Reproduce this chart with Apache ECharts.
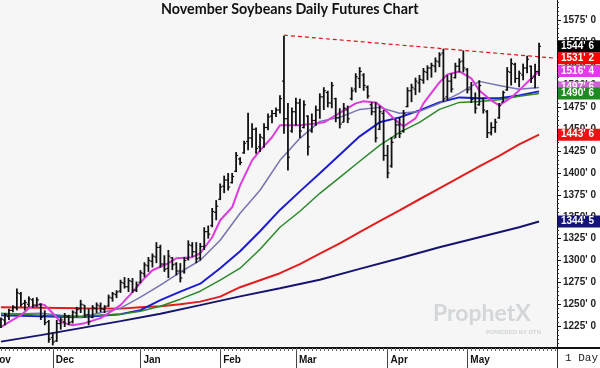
<!DOCTYPE html>
<html><head><meta charset="utf-8">
<script src="https://cdn.jsdelivr.net/npm/echarts/dist/echarts.min.js"></script>
<style>html,body{margin:0;padding:0;background:#fff}#c{width:600px;height:368px}</style>
</head><body><div id="c"></div>
<script>
// ---- data ----
const months = ['Nov','Dec','Jan','Feb','Mar','Apr','May'];
const monthStartBar = [-3,13,35,55,74,97,117];
const PRE = 3, POST = 4;

const opens = [1225,1232,1236,1243,1246,1262,1251,1250,1255,1249,
1250,1237,1230,1212,1208,1228,1230,1236,1230,1240,
1245,1249,1238,1235,1245,1248,1244,1248,1257,1261,
1265,1274,1270,1276,1266,1275,1285,1294,1299,1304,
1315,1296,1291,1303,1296,1288,1287,1302,1317,1310,
1303,1316,1333,1340,1355,1370,1385,1392,1389,1402,
1416,1423,1436,1440,1450,1430,1440,1452,1465,1468,
1472,1505,1462,1448,1470,1480,1452,1465,1448,1460,
1472,1487,1492,1480,1485,1463,1458,1472,1485,1496,
1508,1512,1498,1478,1470,1450,1468,1420,1408,1440,
1455,1448,1476,1494,1496,1503,1506,1515,1520,1522,
1527,1537,1487,1505,1509,1522,1528,1518,1496,1485,
1478,1485,1470,1446,1452,1463,1481,1495,1515,1524,
1508,1512,1520,1522,1510,1516];
const highs = [1235,1240,1245,1249,1268,1264,1255,1259,1257,1258,
1251,1243,1232,1218,1232,1235,1240,1238,1243,1247,
1255,1249,1245,1249,1252,1252,1249,1261,1264,1266,
1278,1281,1280,1280,1276,1289,1298,1304,1308,1321,
1318,1306,1312,1304,1298,1297,1304,1323,1321,1321,
1320,1338,1340,1360,1369,1388,1397,1400,1400,1424,
1418,1437,1469,1457,1452,1445,1457,1468,1472,1475,
1489,1557,1480,1475,1486,1485,1483,1466,1468,1477,
1491,1498,1494,1504,1486,1474,1480,1477,1498,1514,
1521,1514,1500,1481,1481,1477,1472,1432,1441,1462,
1464,1472,1498,1502,1509,1512,1520,1523,1526,1532,
1538,1542,1512,1514,1526,1531,1540,1520,1504,1492,
1506,1486,1472,1458,1462,1480,1494,1521,1531,1526,
1517,1525,1534,1523,1525,1549];
const lows = [1223,1226,1232,1241,1243,1247,1243,1247,1246,1247,
1232,1226,1206,1203,1207,1221,1224,1226,1228,1235,
1240,1235,1226,1234,1240,1241,1240,1247,1253,1257,
1263,1268,1264,1263,1264,1274,1281,1287,1292,1297,
1292,1287,1280,1289,1283,1275,1285,1300,1304,1297,
1300,1312,1325,1338,1346,1369,1377,1380,1388,1401,
1409,1422,1426,1429,1422,1424,1429,1449,1457,1464,
1468,1445,1403,1446,1454,1440,1451,1420,1446,1454,
1462,1472,1475,1474,1458,1451,1458,1457,1483,1492,
1497,1494,1485,1466,1435,1449,1414,1394,1406,1440,
1440,1446,1475,1481,1489,1492,1502,1506,1509,1515,
1521,1481,1483,1492,1508,1515,1515,1491,1480,1468,
1477,1468,1440,1443,1446,1462,1481,1494,1500,1503,
1498,1506,1514,1503,1497,1511];
const closes = [1233,1238,1243,1247,1263,1250,1252,1256,1249,1255,
1235,1229,1210,1207,1228,1232,1237,1229,1241,1244,
1250,1238,1230,1246,1249,1245,1247,1258,1262,1264,
1275,1270,1277,1266,1272,1286,1295,1300,1305,1315,
1296,1290,1305,1295,1288,1280,1300,1318,1310,1302,
1316,1333,1330,1356,1362,1384,1392,1384,1396,1420,
1412,1434,1440,1450,1428,1441,1452,1464,1468,1472,
1485,1462,1418,1470,1480,1448,1478,1430,1460,1472,
1487,1494,1480,1500,1463,1456,1474,1462,1494,1510,
1516,1500,1488,1470,1440,1470,1420,1400,1435,1455,
1445,1468,1494,1498,1505,1507,1516,1520,1523,1528,
1535,1485,1505,1496,1522,1527,1520,1495,1484,1474,
1500,1472,1446,1452,1458,1477,1492,1516,1525,1508,
1514,1520,1530,1508,1516,1544.75];

// moving averages: [bar index, value]
const pinkMA = [[0,1223.8],[2,1229.6],[5,1237.5],[7,1245.5],[10,1250.1],[11,1249],[13,1239.8],[15,1229.6],[18,1226.1],[21,1228.4],[25,1234.1],[27,1239.8],[30,1249],[33,1263.8],[36,1279.8],[38,1288.9],[42,1296.9],[44,1302.6],[48,1303.8],[50,1308.3],[53,1326.6],[55,1346],[58,1360.8],[60,1385.9],[63,1414.5],[65,1425.9],[68,1440.8],[70,1454.5],[72,1454.5],[75,1454.5],[79,1456.7],[81,1457.9],[84,1465.9],[86,1471.6],[89,1479.6],[91,1481.9],[94,1480.7],[96,1473.8],[99,1460.2],[101,1453.3],[104,1462.4],[106,1479.6],[110,1503.5],[112,1512.7],[115,1516.1],[118,1508.1],[120,1494.4],[123,1483],[125,1477.3],[128,1486.4],[130,1494.4],[132,1503.5],[135,1516.5]];
const lavMA = [[0,1238.7],[10,1239.8],[20,1235.2],[30,1245.5],[35,1258.1],[40,1271.8],[45,1286.6],[50,1300.3],[55,1323.2],[60,1354],[65,1380.3],[70,1414.5],[75,1439.6],[80,1459],[85,1463.6],[90,1472.7],[95,1475],[100,1468.2],[105,1470.4],[110,1479.6],[115,1491],[120,1504.7],[125,1500.1],[130,1495.6],[135,1497.75]];
const blueMA = [[0,1237.5],[10,1236.4],[20,1235.2],[30,1238.7],[35,1243.3],[40,1254.7],[45,1264.4],[50,1273.5],[55,1291.2],[60,1310.6],[65,1333.4],[70,1357.8],[75,1379],[80,1399.6],[85,1420.8],[90,1441.9],[95,1457.9],[100,1463.6],[105,1471.6],[110,1480.7],[115,1486.4],[120,1485.3],[125,1485.3],[130,1488.7],[135,1493.3]];
const greenMA = [[0,1239.8],[10,1237.5],[20,1236.4],[30,1238.7],[35,1242.1],[40,1247.8],[45,1255.8],[50,1264.9],[55,1277.5],[60,1291.2],[65,1312.9],[70,1338],[75,1356.3],[80,1376.8],[85,1395],[90,1413.4],[95,1431.6],[100,1446.5],[105,1457.9],[110,1472.7],[115,1480.7],[120,1481.8],[125,1483.6],[130,1487.6],[135,1490.75]];
const redMA = [[0,1246.7],[10,1246.1],[20,1245.5],[30,1245],[35,1246.7],[40,1247.8],[45,1250],[50,1253],[55,1258.7],[60,1269.5],[65,1277.5],[70,1285.5],[75,1295.8],[80,1307.8],[85,1319.7],[90,1332.3],[95,1344.9],[100,1357.4],[105,1370],[110,1382.5],[115,1395],[120,1407.6],[125,1419.6],[130,1432.8],[135,1443.75]];
const navyMA = [[0,1207.3],[10,1214.7],[20,1222.7],[30,1230.7],[40,1239.2],[50,1249],[60,1259],[70,1268.4],[80,1278],[90,1290.4],[100,1302.6],[110,1315.2],[120,1326.6],[130,1338],[135,1344.625]];
const trendLine = [[71,1557.5],[139,1531.25]];

// ---- build ----
function fmt(v){ const w = Math.floor(v + 1e-9); return w + "' " + Math.round((v - w) * 8); }
const NB = highs.length;
const categories = new Array(PRE + NB + POST).fill('');
months.forEach((m, k) => { categories[PRE + monthStartBar[k]] = m; });
const shift = arr => arr.map(([i, v]) => [PRE + i, v]);
const last = arr => arr[arr.length - 1][1];
const FONT = 'Liberation Sans';

function tag(value, bg){
  return { silent: true, symbol: ['none','none'], animation: false,
    lineStyle: { color: 'rgba(0,0,0,0)', width: 0, opacity: 1, type: 'solid' },
    label: { show: true, position: 'end', distance: 1, formatter: p => fmt(p.value),
      backgroundColor: bg, color: '#fff', fontFamily: FONT, fontWeight: 'bold', fontSize: 10,
      lineHeight: 11, padding: [1, 4, 0, 3], width: 40, opacity: 1 },
    emphasis: { disabled: true },
    data: [{ yAxis: value }] };
}
function maSeries(name, arr, color, width, tagBg){
  const s = { name, type: 'line', data: shift(arr), showSymbol: false, symbol: 'none', clip: false,
    lineStyle: { color, width }, itemStyle: { color }, emphasis: { disabled: true }, z: 2 };
  if (tagBg) s.markLine = tag(last(arr), tagBg);
  return s;
}

const ohlcData = highs.map((h, i) => [PRE + i, opens[i], h, lows[i], closes[i]]);

const chart = echarts.init(document.getElementById('c'), null, { renderer: 'canvas' });
const option = {
  animation: false,
  backgroundColor: '#ffffff',
  title: { text: 'November Soybeans Daily Futures Chart', left: 161, top: 2, padding: 0,
    textStyle: { fontFamily: 'Lato', fontWeight: 'bold', fontSize: 14.3, color: '#111' } },
  grid: { left: -13, right: 43, top: -2, bottom: 20, show: true, backgroundColor: '#f6f6f6',
    borderWidth: 0, containLabel: false, outerBoundsMode: 'none' },
  xAxis: [
    { type: 'category', data: categories, position: 'bottom', boundaryGap: true,
      axisLine: { show: true, lineStyle: { color: '#111', width: 2 } },
      axisTick: { show: true, alignWithLabel: true, interval: (i, v) => v !== '', length: 20,
        lineStyle: { color: '#444', width: 1 } },
      axisLabel: { show: true, interval: (i, v) => v !== '', align: 'left', margin: 7,
        padding: [0, 0, 0, 3], fontSize: 10, fontWeight: 'bold', fontFamily: FONT, color: '#111' },
      splitLine: { show: false } },
    { type: 'category', data: categories, position: 'bottom', boundaryGap: true,
      axisLine: { show: false },
      axisTick: { show: true, interval: 0, alignWithLabel: true, length: 3, lineStyle: { color: '#666', width: 1 } },
      axisLabel: { show: false }, splitLine: { show: false } }
  ],
  yAxis: { type: 'value', position: 'right', min: 1200, max: 1600, interval: 25,
    axisLine: { show: true, lineStyle: { color: '#111', width: 1 } },
    axisTick: { show: true, length: 4, lineStyle: { color: '#111' } },
    minorTick: { show: true, splitNumber: 5, length: 2, lineStyle: { color: '#333' } },
    splitLine: { show: false }, minorSplitLine: { show: false },
    axisLabel: { show: true, margin: 6, formatter: v => fmt(v), fontSize: 10, fontWeight: 'bold',
      fontFamily: FONT, color: '#222', showMinLabel: false, showMaxLabel: false } },
  series: [
    maSeries('navy', navyMA, '#151570', 2, '#14147a'),
    maSeries('red', redMA, '#e21d1d', 2, '#f01010'),
    maSeries('blue', blueMA, '#1c1cd2', 2, null),
    maSeries('lav', lavMA, '#7474b4', 1.5, '#d260d8'),
    maSeries('green', greenMA, '#2a8a2a', 1.5, '#1f8a1f'),
    maSeries('pink', pinkMA, '#dc3cdc', 2, '#e03ce6'),
    { name: 'trend', type: 'line', data: shift(trendLine), showSymbol: false, symbol: 'none', clip: false,
      lineStyle: { color: '#dd1515', width: 1.2, type: [4, 3] }, emphasis: { disabled: true }, z: 3,
      markLine: tag(last(trendLine), '#ff0000') },
    { name: 'ohlc', type: 'custom', data: ohlcData, clip: false, z: 4,
      encode: { x: 0, y: [1, 2, 3, 4] },
      renderItem: (params, api) => {
        const x = api.value(0);
        const o = api.coord([x, api.value(1)]), h = api.coord([x, api.value(2)]);
        const l = api.coord([x, api.value(3)]), c = api.coord([x, api.value(4)]);
        const t = api.size([1, 0])[0] * 0.5;
        return { type: 'group', children: [
          { type: 'line', shape: { x1: h[0], y1: h[1], x2: l[0], y2: l[1] }, style: { stroke: '#111', lineWidth: 1.8 } },
          { type: 'line', shape: { x1: o[0] - t, y1: o[1], x2: o[0], y2: o[1] }, style: { stroke: '#111', lineWidth: 1.2 } },
          { type: 'line', shape: { x1: c[0], y1: c[1], x2: c[0] + t, y2: c[1] }, style: { stroke: '#111', lineWidth: 1.2 } }
        ] };
      },
      markLine: tag(closes[closes.length - 1], '#000000') }
  ],
  graphic: [
    { type: 'text', left: 433, top: 302, z: 1, style: { text: 'ProphetX', font: 'bold 23px "Lato"', fill: '#d3d7da' } },
    { type: 'text', left: 486, top: 329, z: 1, style: { text: 'POWERED BY DTN', font: 'bold 6px "Liberation Sans"', fill: '#d0d4d7' } },
    { type: 'line', shape: { x1: 557, y1: 348, x2: 600, y2: 348 }, style: { stroke: '#111', lineWidth: 2 } },
    { type: 'line', shape: { x1: 557.5, y1: 348, x2: 557.5, y2: 368 }, style: { stroke: '#333', lineWidth: 1 } },
    { type: 'text', left: 565, top: 353, style: { text: '1 Day', font: '11px "Liberation Mono"', fill: '#222' } }
  ]
};
chart.setOption(option);
</script></body></html>
